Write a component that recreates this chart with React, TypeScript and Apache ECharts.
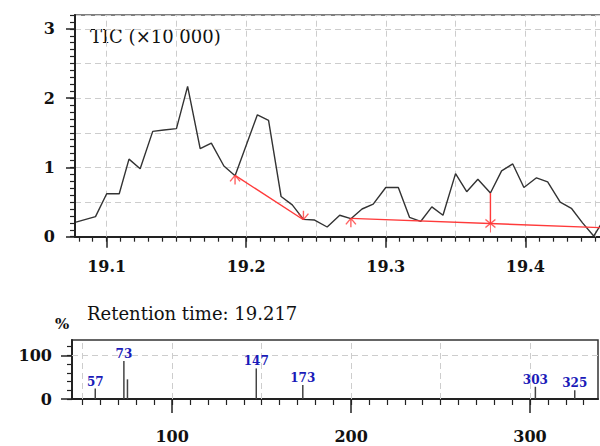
import React, { useEffect, useRef } from 'react';
import * as echarts from 'echarts';

// ---- TIC chromatogram (retention time in min, TIC ×10 000) ----
const TIC_TIME = [
  19.078, 19.092, 19.100, 19.109, 19.116, 19.124, 19.133, 19.141, 19.150, 19.158,
  19.167, 19.175, 19.184, 19.192, 19.200, 19.208, 19.216, 19.225, 19.233, 19.241,
  19.249, 19.258, 19.267, 19.275, 19.283, 19.291, 19.300, 19.309, 19.317, 19.325,
  19.333, 19.341, 19.350, 19.358, 19.366, 19.375, 19.383, 19.391, 19.399, 19.408,
  19.416, 19.425, 19.433, 19.441, 19.449, 19.458,
];
const TIC_VALUE = [
  0.21, 0.29, 0.62, 0.62, 1.12, 0.98, 1.52, 1.54, 1.56, 2.17,
  1.27, 1.35, 1.02, 0.88, 1.32, 1.76, 1.68, 0.58, 0.46, 0.25,
  0.24, 0.14, 0.31, 0.26, 0.40, 0.47, 0.71, 0.71, 0.28, 0.22,
  0.43, 0.31, 0.91, 0.65, 0.83, 0.63, 0.95, 1.05, 0.71, 0.85,
  0.79, 0.50, 0.41, 0.20, 0.01, 0.30,
];

// ---- red baselines / markers ----
const BASE1_TIME = [19.192, 19.241];
const BASE1_VALUE = [0.885, 0.245];
const BASE2_TIME = [19.275, 19.47];
const BASE2_VALUE = [0.265, 0.119];
const DROP_TIME = [19.375, 19.375];
const DROP_VALUE = [0.19, 0.63];
const MARK_UP_TIME = [19.192, 19.275];
const MARK_UP_VALUE = [0.885, 0.265];
const MARK_DOWN_TIME = [19.241];
const MARK_DOWN_VALUE = [0.245];
const MARK_STAR_TIME = [19.375];
const MARK_STAR_VALUE = [0.19];

// ---- mass spectrum ----
const MZ = [57, 73, 75, 147, 173, 303, 325];
const INTENSITY = [24, 87, 45, 70, 32, 28, 20];
const PEAK_LABELS = ['57', '73', '', '147', '173', '303', '325'];

// ---- axes ----
const TOP_X_LABELS = [19.1, 19.2, 19.3, 19.4];
const TOP_X_GRID = [19.1, 19.15, 19.2, 19.25, 19.3, 19.35, 19.4, 19.45];
const TOP_Y_LABELS = [0, 1, 2, 3];
const BOTTOM_X_LABELS = [100, 200, 300];
const BOTTOM_X_GRID = [50, 100, 150, 200, 250, 300];
const BOTTOM_Y_LABELS = [0, 100];
const BOTTOM_Y_MINOR = [0, 20, 40, 60, 80, 100, 120];

const TOP_X_MIN = 19.0773;
const TOP_X_MAX = 19.47;
const BOT_X_MIN = 44;
const BOT_X_MAX = 338;

const TITLE_TIC = 'TIC (×10 000)';
const TITLE_RT = 'Retention time: 19.217';

const SERIF = 'DejaVu Serif';

function range(a: number, b: number, step: number): number[] {
  const out: number[] = [];
  const n = Math.round((b - a) / step);
  for (let i = 0; i <= n; i++) out.push(+(a + i * step).toFixed(4));
  return out;
}

const zip = (xs: number[], ys: number[]) => xs.map((x, i) => [x, ys[i]]);

export default function App() {
  const ref = useRef<HTMLDivElement>(null);
  useEffect(() => {
    if (!ref.current) return;
    const chart = echarts.init(ref.current, undefined, { renderer: 'svg' });
    const axisFont = { fontFamily: SERIF, fontSize: 16, fontWeight: 'bold' as const, color: '#111' };
    const gridLine = { type: [6, 4] as any, color: '#cdcdcd', width: 1 };
    const red = '#ff3a3a';
    const topMajor = range(19.1, 19.4, 0.1);
    const topMinor = range(19.08, 19.46, 0.01);
    const botMinor = range(50, 330, 10);

    const option: any = {
      animation: false,
      textStyle: { fontFamily: SERIF },
      grid: [
        { left: 75, top: 15, width: 548, height: 221.7, show: true, borderColor: '#555', borderWidth: 1.5 },
        { left: 72, top: 340, width: 526, height: 59, show: true, borderColor: '#333', borderWidth: 1.5 },
      ],
      xAxis: [
        {
          type: 'value', gridIndex: 0, position: 'bottom', min: TOP_X_MIN, max: TOP_X_MAX,
          axisLine: { show: true, onZero: false, lineStyle: { color: '#222', width: 2 } },
          axisTick: { show: true, customValues: topMajor, length: 11, lineStyle: { color: '#222', width: 1.5 } },
          axisLabel: { customValues: TOP_X_LABELS, margin: 22, formatter: (v: number) => v.toFixed(1), ...axisFont },
          splitLine: { show: false },
        },
        {
          type: 'value', gridIndex: 0, position: 'bottom', min: TOP_X_MIN, max: TOP_X_MAX,
          axisLine: { show: false, onZero: false },
          axisTick: { show: true, customValues: topMinor, length: 5, lineStyle: { color: '#222', width: 1.2 } },
          axisLabel: { show: false },
          splitLine: { show: false },
        },
        {
          type: 'value', gridIndex: 1, position: 'bottom', min: BOT_X_MIN, max: BOT_X_MAX,
          axisLine: { show: true, onZero: false, lineStyle: { color: '#222', width: 2 } },
          axisTick: { show: true, customValues: BOTTOM_X_LABELS, length: 14, lineStyle: { color: '#222', width: 1.5 } },
          axisLabel: { customValues: BOTTOM_X_LABELS, margin: 29, ...axisFont },
          splitLine: { show: false },
        },
        {
          type: 'value', gridIndex: 1, position: 'bottom', min: BOT_X_MIN, max: BOT_X_MAX,
          axisLine: { show: false, onZero: false },
          axisTick: { show: true, customValues: botMinor, length: 6, lineStyle: { color: '#222', width: 1.2 } },
          axisLabel: { show: false },
          splitLine: { show: false },
        },
      ],
      yAxis: [
        {
          type: 'value', gridIndex: 0, position: 'left', min: 0, max: 3.2, interval: 0.5,
          axisLine: { show: true, onZero: false, lineStyle: { color: '#222', width: 2 } },
          axisTick: { show: false }, axisLabel: { show: false },
          splitLine: { show: true, lineStyle: gridLine },
        },
        {
          type: 'value', gridIndex: 0, position: 'left', min: 0, max: 3.2,
          axisLine: { show: false, onZero: false },
          axisTick: { show: true, customValues: TOP_Y_LABELS, length: 9, lineStyle: { color: '#222', width: 1.5 } },
          axisLabel: { customValues: TOP_Y_LABELS, margin: 20, ...axisFont },
          splitLine: { show: false },
        },
        {
          type: 'value', gridIndex: 0, position: 'left', min: 0, max: 3.2, interval: 0.1,
          axisLine: { show: false, onZero: false },
          axisTick: { show: true, length: 5, lineStyle: { color: '#222', width: 1.2 } },
          axisLabel: { show: false }, splitLine: { show: false },
        },
        {
          type: 'value', gridIndex: 1, position: 'left', min: 0, max: 135,
          axisLine: { show: true, onZero: false, lineStyle: { color: '#222', width: 2 } },
          axisTick: { show: true, customValues: BOTTOM_Y_LABELS, length: 11, lineStyle: { color: '#222', width: 1.5 } },
          axisLabel: { customValues: BOTTOM_Y_LABELS, margin: 20, ...axisFont },
          splitLine: { show: false },
        },
        {
          type: 'value', gridIndex: 1, position: 'left', min: 0, max: 135,
          axisLine: { show: false, onZero: false },
          axisTick: { show: true, customValues: BOTTOM_Y_MINOR, length: 5, lineStyle: { color: '#222', width: 1.2 } },
          axisLabel: { show: false }, splitLine: { show: false },
        },
      ],
      series: [
        {
          type: 'line', xAxisIndex: 0, yAxisIndex: 0, data: [], z: 1, silent: true,
          markLine: {
            silent: true, symbol: ['none', 'none'], label: { show: false }, z: 1,
            lineStyle: gridLine,
            data: TOP_X_GRID.map((x) => ({ xAxis: x })),
          },
        },
        {
          type: 'line', xAxisIndex: 0, yAxisIndex: 0, z: 3, symbol: 'none',
          data: zip(TIC_TIME, TIC_VALUE),
          lineStyle: { color: '#333', width: 1.4 },
        },
        {
          type: 'line', xAxisIndex: 0, yAxisIndex: 0, z: 4, symbol: 'none',
          data: zip(BASE1_TIME, BASE1_VALUE), lineStyle: { color: red, width: 1.4 },
        },
        {
          type: 'line', xAxisIndex: 0, yAxisIndex: 0, z: 4, symbol: 'none',
          data: zip(BASE2_TIME, BASE2_VALUE), lineStyle: { color: red, width: 1.4 },
        },
        {
          type: 'line', xAxisIndex: 0, yAxisIndex: 0, z: 4, symbol: 'none',
          data: zip(DROP_TIME, DROP_VALUE), lineStyle: { color: red, width: 1.4 },
        },
        {
          type: 'scatter', xAxisIndex: 0, yAxisIndex: 0, z: 5,
          data: zip(MARK_UP_TIME, MARK_UP_VALUE),
          symbol: 'path://M5,0 L5,9 M5,0 L0,6 M5,0 L10,6', symbolSize: [10, 9], symbolOffset: [0, 4.5],
          itemStyle: { color: 'none', borderColor: red, borderWidth: 1.3 },
        },
        {
          type: 'scatter', xAxisIndex: 0, yAxisIndex: 0, z: 5,
          data: zip(MARK_DOWN_TIME, MARK_DOWN_VALUE),
          symbol: 'path://M5,9 L5,0 M5,9 L0,3 M5,9 L10,3', symbolSize: [10, 9], symbolOffset: [0, -4.5],
          itemStyle: { color: 'none', borderColor: red, borderWidth: 1.3 },
        },
        {
          type: 'scatter', xAxisIndex: 0, yAxisIndex: 0, z: 5,
          data: zip(MARK_STAR_TIME, MARK_STAR_VALUE),
          symbol: 'path://M5,0 L5,18 M0,5 L10,13 M0,13 L10,5', symbolSize: [10, 18],
          itemStyle: { color: 'none', borderColor: red, borderWidth: 1.3 },
        },
        {
          type: 'line', xAxisIndex: 2, yAxisIndex: 3, data: [], z: 1, silent: true,
          markLine: {
            silent: true, symbol: ['none', 'none'], label: { show: false }, z: 1,
            lineStyle: gridLine,
            data: [...BOTTOM_X_GRID.map((x) => ({ xAxis: x })), { yAxis: 100 }],
          },
        },
        {
          type: 'bar', xAxisIndex: 2, yAxisIndex: 3, z: 3, barWidth: 1.5,
          data: zip(MZ, INTENSITY),
          itemStyle: { color: '#444' },
          label: {
            show: true, position: 'top', distance: 1,
            formatter: (p: any) => PEAK_LABELS[p.dataIndex],
            color: '#1a1ab8', fontFamily: SERIF, fontSize: 12, fontWeight: 'bold',
          },
        },
      ],
      graphic: [
        { type: 'text', left: 90, top: 27, style: { text: TITLE_TIC, fontFamily: SERIF, fontSize: 18, fill: '#111' } },
        { type: 'text', left: 55, top: 316, style: { text: '%', fontFamily: SERIF, fontSize: 15, fontWeight: 'bold', fill: '#111' } },
        { type: 'text', left: 87, top: 304, style: { text: TITLE_RT, fontFamily: SERIF, fontSize: 18, fill: '#111' } },
      ],
    };
    chart.setOption(option);
    return () => chart.dispose();
  }, []);
  return (
    <div style={{ position: 'absolute', left: 0, top: 0, width: 600, height: 446, overflow: 'hidden' }}>
      <div ref={ref} style={{ width: 623, height: 446 }} />
    </div>
  );
}
